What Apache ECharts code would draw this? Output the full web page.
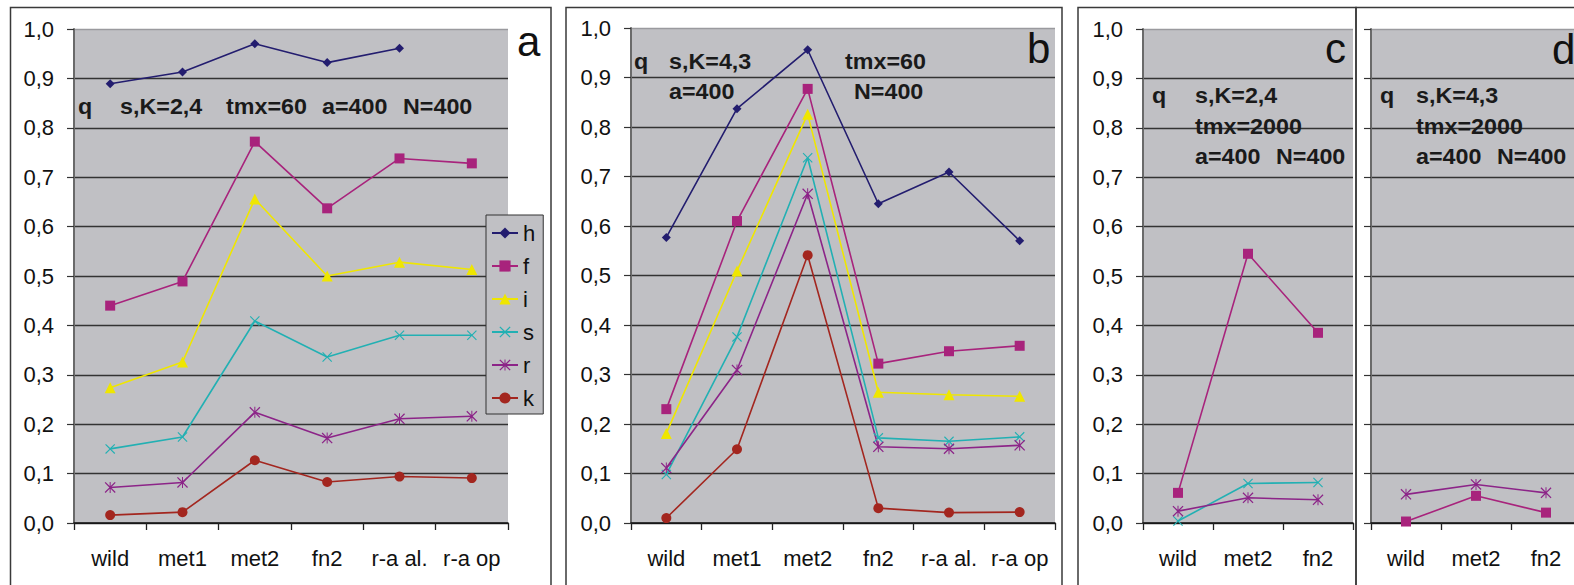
<!DOCTYPE html>
<html>
<head>
<meta charset="utf-8">
<script src="https://cdn.jsdelivr.net/npm/echarts@6/dist/echarts.min.js"></script>
<style>
  html, body { margin: 0; padding: 0; background: #fff; overflow: hidden; }
  #chart { width: 1620px; height: 640px; }
</style>
</head>
<body>
<div id="chart"></div>
<script>
// Categories
const catsAB = ['wild', 'met1', 'met2', 'fn2', 'r-a al.', 'r-a op'];
const catsCD = ['wild', 'met2', 'fn2'];

// Panel a: s,K=2,4  tmx=60
const aH = [0.889, 0.913, 0.970, 0.932, 0.961, null];
const aF = [0.440, 0.489, 0.772, 0.637, 0.738, 0.728];
const aI = [0.274, 0.326, 0.656, 0.500, 0.528, 0.513];
const aS = [0.150, 0.174, 0.409, 0.336, 0.380, 0.380];
const aR = [0.072, 0.082, 0.224, 0.172, 0.211, 0.216];
const aK = [0.016, 0.022, 0.127, 0.083, 0.094, 0.091];

// Panel b: s,K=4,3  tmx=60
const bH = [0.577, 0.837, 0.956, 0.645, 0.709, 0.570];
const bF = [0.230, 0.610, 0.877, 0.322, 0.347, 0.358];
const bI = [0.181, 0.509, 0.826, 0.264, 0.259, 0.256];
const bS = [0.098, 0.376, 0.738, 0.172, 0.165, 0.174];
const bR = [0.111, 0.309, 0.665, 0.154, 0.150, 0.157];
const bK = [0.010, 0.149, 0.541, 0.030, 0.021, 0.022];

// Panel c: s,K=2,4  tmx=2000
const cF = [0.061, 0.545, 0.385];
const cS = [0.004, 0.080, 0.082];
const cR = [0.024, 0.051, 0.047];

// Panel d: s,K=4,3  tmx=2000
const dF = [0.003, 0.055, 0.021];
const dR = [0.058, 0.078, 0.061];

// Y axis ticks
const yTicks = [0.0, 0.1, 0.2, 0.3, 0.4, 0.5, 0.6, 0.7, 0.8, 0.9, 1.0];

// Parameter notes drawn inside each panel
const notesA = [['q', 78, 106], ['s,K=2,4', 120, 106], ['tmx=60', 226, 106], ['a=400', 322, 106], ['N=400', 403, 106]];
const notesB = [['q', 634, 61], ['s,K=4,3', 669, 61], ['tmx=60', 845, 61], ['a=400', 669, 91], ['N=400', 854, 91]];
const notesC = [['q', 1152, 95], ['s,K=2,4', 1195, 95], ['tmx=2000', 1195, 126], ['a=400', 1195, 156], ['N=400', 1276, 156]];
const notesD = [['q', 1380, 95], ['s,K=4,3', 1416, 95], ['tmx=2000', 1416, 126], ['a=400', 1416, 156], ['N=400', 1497, 156]];
const panelLetters = [['a', 517, 41], ['b', 1027, 48], ['c', 1325, 48], ['d', 1552, 49]];

const FONT = '"Liberation Sans", Arial, sans-serif';
const PLOT_BG = '#c0c0c4';

const X_PATH = 'path://M0,0.8L0.8,0L5,4.2L9.2,0L10,0.8L5.8,5L10,9.2L9.2,10L5,5.8L0.8,10L0,9.2L4.2,5Z';
const STAR_PATH = 'path://M0,0.8L0.8,0L5,4.2L9.2,0L10,0.8L5.8,5L10,9.2L9.2,10L5,5.8L0.8,10L0,9.2L4.2,5Z M4.55,0L5.45,0L5.45,10L4.55,10Z';

const style = {
  h: { color: '#231d6f', symbol: 'diamond', size: 9 },
  f: { color: '#a8237c', symbol: 'rect', size: 10 },
  i: { color: '#efe600', symbol: 'triangle', size: 11 },
  s: { color: '#22b0b3', symbol: X_PATH, size: 10 },
  r: { color: '#8c2488', symbol: STAR_PATH, size: 11 },
  k: { color: '#a3261f', symbol: 'circle', size: 10 }
};

const panels = [
  { grid: { left: 74, top: 29, width: 434, height: 494 }, cats: catsAB, labels: true,
    lines: { h: aH, f: aF, i: aI, s: aS, r: aR, k: aK } },
  { grid: { left: 631, top: 28, width: 424, height: 495 }, cats: catsAB, labels: true,
    lines: { h: bH, f: bF, i: bI, s: bS, r: bR, k: bK } },
  { grid: { left: 1143, top: 29, width: 210, height: 494 }, cats: catsCD, labels: true,
    lines: { f: cF, s: cS, r: cR } },
  { grid: { left: 1371, top: 29, width: 210, height: 494 }, cats: catsCD, labels: false,
    lines: { f: dF, r: dR } }
];

const splitColors = yTicks.map((v, i) => (i === yTicks.length - 1 ? '#9a9a9e' : '#333'));

const grids = [], xAxes = [], yAxes = [], series = [];
panels.forEach((p, idx) => {
  grids.push(Object.assign({ show: true, backgroundColor: PLOT_BG, borderWidth: 0 }, p.grid));
  xAxes.push({
    type: 'category', gridIndex: idx, data: p.cats, boundaryGap: true,
    axisLine: { lineStyle: { color: '#111', width: 1.5 } },
    axisTick: { show: true, length: 7, lineStyle: { color: '#222', width: 1.3 } },
    axisLabel: { margin: 24, fontSize: 22, fontFamily: FONT, color: '#111', interval: 0 }
  });
  yAxes.push({
    type: 'value', gridIndex: idx, min: 0, max: 1, interval: 0.1,
    axisLine: { show: true, lineStyle: { color: '#6a6a6a', width: 2 } },
    axisTick: { show: true, length: 7, lineStyle: { color: '#333', width: 1.2 } },
    splitLine: { show: true, lineStyle: { color: splitColors, width: 1.3 } },
    axisLabel: {
      show: p.labels, margin: 20, fontSize: 22, fontFamily: FONT, color: '#111',
      formatter: v => v.toFixed(1).replace('.', ',')
    }
  });
  Object.keys(p.lines).forEach(key => {
    const st = style[key];
    series.push({
      type: 'line', name: key, xAxisIndex: idx, yAxisIndex: idx,
      data: p.lines[key], connectNulls: false,
      symbol: st.symbol, symbolSize: st.size, showAllSymbol: true,
      lineStyle: { color: st.color, width: 1.6 },
      itemStyle: { color: st.color },
      emphasis: { disabled: true },
      animation: false
    });
  });
});

const noteText = (t, x, y) => ({
  type: 'text', x: x, y: y, scaleX: 1.06, z: 50, silent: true,
  style: { text: t, fontSize: 22, fontWeight: 'bold', fontFamily: FONT, fill: '#1a1a1a', verticalAlign: 'middle', align: 'left' }
});

const graphics = [];
// Panel frames
[[10.5, 551], [566, 1062], [1078, 1356], [1356, 1700]].forEach(([l, r]) => {
  graphics.push({
    type: 'rect', z: 0, silent: true,
    shape: { x: l, y: 7.5, width: r - l, height: 700 },
    style: { fill: 'none', stroke: '#3a3a3a', lineWidth: 1.5 }
  });
});
[notesA, notesB, notesC, notesD].forEach(list => list.forEach(n => graphics.push(noteText(n[0], n[1], n[2]))));
panelLetters.forEach(([t, x, y]) => graphics.push({
  type: 'text', x: x, y: y, z: 50, silent: true,
  style: { text: t, fontSize: 42, fontFamily: FONT, fill: '#111', verticalAlign: 'middle', align: 'left' }
}));

const chart = echarts.init(document.getElementById('chart'), null, { renderer: 'svg' });
chart.setOption({
  animation: false,
  backgroundColor: '#fff',
  grid: grids,
  xAxis: xAxes,
  yAxis: yAxes,
  legend: {
    show: true, orient: 'vertical', left: 486, top: 215,
    data: ['h', 'f', 'i', 's', 'r', 'k'],
    itemWidth: 26, itemHeight: 14, itemGap: 11, itemTextGap: 5,
    padding: [7, 8, 5, 5],
    backgroundColor: PLOT_BG, borderColor: '#333', borderWidth: 1,
    selectedMode: false,
    textStyle: { fontSize: 22, fontFamily: FONT, color: '#111' }
  },
  graphic: graphics,
  series: series
});
</script>
</body>
</html>
